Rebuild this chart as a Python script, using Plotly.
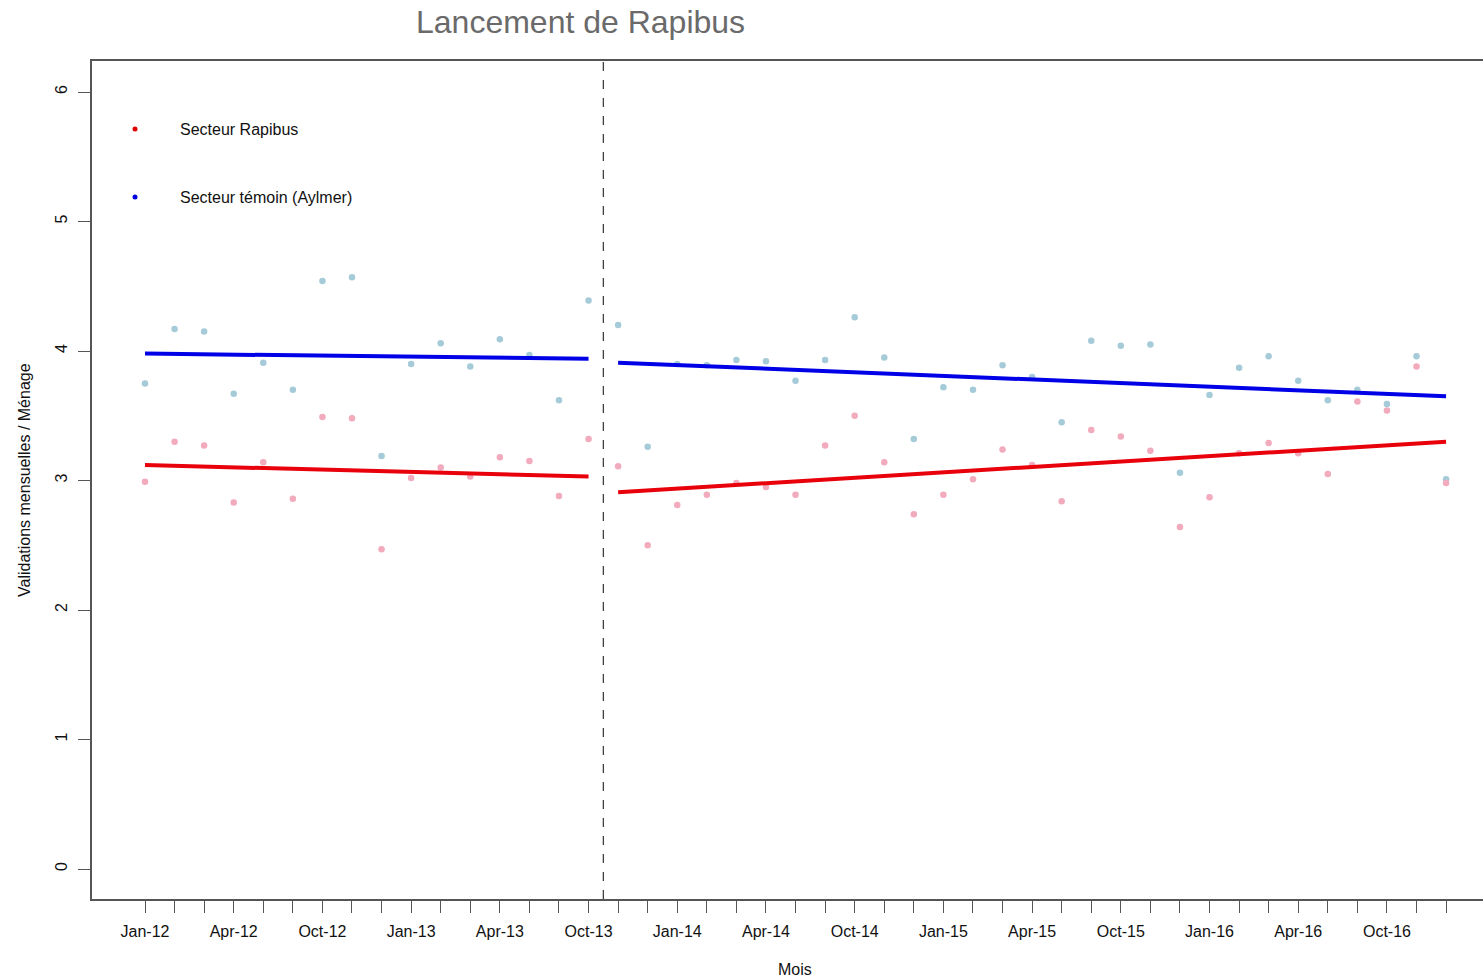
import plotly.graph_objects as go

# ---- data ----
month_labels = [
    "Jan-12", "Feb-12", "Mar-12", "Apr-12", "May-12", "Jun-12", "Oct-12", "Nov-12", "Dec-12",
    "Jan-13", "Feb-13", "Mar-13", "Apr-13", "May-13", "Jun-13", "Oct-13", "Nov-13", "Dec-13",
    "Jan-14", "Feb-14", "Mar-14", "Apr-14", "May-14", "Jun-14", "Oct-14", "Nov-14", "Dec-14",
    "Jan-15", "Feb-15", "Mar-15", "Apr-15", "May-15", "Jun-15", "Oct-15", "Nov-15", "Dec-15",
    "Jan-16", "Feb-16", "Mar-16", "Apr-16", "May-16", "Jun-16", "Oct-16", "Nov-16", "Dec-16",
]
rapibus = [2.99, 3.30, 3.27, 2.83, 3.14, 2.86, 3.49, 3.48, 2.47, 3.02, 3.10, 3.03, 3.18, 3.15, 2.88, 3.32,
           3.11, 2.50, 2.81, 2.89, 2.98, 2.95, 2.89, 3.27, 3.50, 3.14, 2.74, 2.89, 3.01, 3.24, 3.12,
           2.84, 3.39, 3.34, 3.23, 2.64, 2.87, 3.21, 3.29, 3.21, 3.05, 3.61, 3.54, 3.88, 2.98]
aylmer = [3.75, 4.17, 4.15, 3.67, 3.91, 3.70, 4.54, 4.57, 3.19, 3.90, 4.06, 3.88, 4.09, 3.97, 3.62, 4.39,
          4.20, 3.26, 3.90, 3.89, 3.93, 3.92, 3.77, 3.93, 4.26, 3.95, 3.32, 3.72, 3.70, 3.89, 3.80,
          3.45, 4.08, 4.04, 4.05, 3.06, 3.66, 3.87, 3.96, 3.77, 3.62, 3.70, 3.59, 3.96, 3.01]
# fitted trend values at start / end of each period
pre_period = ["Jan-12", "Oct-13"]
post_period = ["Nov-13", "Dec-16"]
rapibus_fit_pre = [3.12, 3.03]
rapibus_fit_post = [2.91, 3.30]
aylmer_fit_pre = [3.98, 3.94]
aylmer_fit_post = [3.91, 3.65]
launch_after = "Oct-13"
y_ticks = [0, 1, 2, 3, 4, 5, 6]

idx = list(range(len(month_labels)))
pos = {m: i for i, m in enumerate(month_labels)}
shown = [m if i % 3 == 0 else "" for i, m in enumerate(month_labels)]

FONT = "Liberation Sans, Arial, sans-serif"
AX = "#555555"

fig = go.Figure()
fig.add_trace(go.Scatter(x=idx, y=aylmer, mode="markers",
                         marker=dict(color="#A6CBD8", size=6.5), showlegend=False))
fig.add_trace(go.Scatter(x=idx, y=rapibus, mode="markers",
                         marker=dict(color="#F2AABD", size=6.5), showlegend=False))
for period, vals, col in [
    (pre_period, rapibus_fit_pre, "#E8000B"),
    (post_period, rapibus_fit_post, "#E8000B"),
    (pre_period, aylmer_fit_pre, "#0000E6"),
    (post_period, aylmer_fit_post, "#0000E6"),
]:
    fig.add_trace(go.Scatter(x=[pos[m] for m in period], y=vals, mode="lines",
                             line=dict(color=col, width=4), showlegend=False))

# launch line
fig.add_shape(type="line", xref="x", yref="paper",
              x0=pos[launch_after] + 0.5, x1=pos[launch_after] + 0.5, y0=0, y1=1,
              line=dict(color="#333333", width=1.2, dash="dash"))

W, H = 1483, 980
L, T, B = 92, 61, 81
pw = W - L
ph = H - T - B

def px_x(p):
    return (p - L) / pw

def px_y(p):
    return (H - B - p) / ph

# legend
for ypix, col, txt in [(129, "#E00000", "Secteur Rapibus"), (197, "#0000DD", "Secteur témoin (Aylmer)")]:
    fig.add_shape(type="circle", xref="paper", yref="paper",
                  xsizemode="pixel", ysizemode="pixel",
                  xanchor=px_x(135), yanchor=px_y(ypix),
                  x0=-2.5, x1=2.5, y0=-2.5, y1=2.5,
                  fillcolor=col, line=dict(width=0))
    fig.add_annotation(xref="paper", yref="paper", x=px_x(178), y=px_y(ypix),
                       xanchor="left", yanchor="middle", showarrow=False, text=txt,
                       font=dict(family=FONT, size=16, color="#111111"))

# title
fig.add_annotation(xref="paper", yref="paper", x=px_x(580), y=px_y(22),
                   xanchor="center", yanchor="middle", showarrow=False,
                   text="Lancement de Rapibus",
                   font=dict(family=FONT, size=32, color="#6a6a6a"))
# axis titles
fig.add_annotation(xref="paper", yref="paper", x=px_x(24), y=0.5,
                   xanchor="center", yanchor="middle", showarrow=False, textangle=-90,
                   text="Validations mensuelles / Ménage",
                   font=dict(family=FONT, size=16, color="#111111"))
fig.add_annotation(xref="paper", yref="paper", x=px_x(795), y=px_y(969),
                   xanchor="center", yanchor="middle", showarrow=False,
                   text="Mois", font=dict(family=FONT, size=16, color="#111111"))

step = 29.57
fig.update_layout(
    width=W, height=H,
    margin=dict(l=L, r=0, t=T, b=B),
    paper_bgcolor="white", plot_bgcolor="white",
    font=dict(family=FONT, size=16, color="#111111"),
    xaxis=dict(range=[-(145 - L) / step, (W - 145) / step],
               tickmode="array", tickvals=idx, ticktext=shown,
               ticks="outside", ticklen=12, tickwidth=1.3, tickcolor=AX,
               showline=True, linecolor=AX, linewidth=1.5, mirror=True,
               showgrid=False, zeroline=False, ticklabelstandoff=5,
               tickfont=dict(family=FONT, size=16, color="#111111")),
    yaxis=dict(range=[-30 / 129.5, 808 / 129.5],
               tickmode="array", tickvals=y_ticks, ticktext=[str(v) for v in y_ticks],
               ticks="outside", ticklen=12, tickwidth=1.3, tickcolor=AX,
               showline=True, linecolor=AX, linewidth=1.5, mirror=False,
               showgrid=False, zeroline=False, tickangle=-90, ticklabelstandoff=5,
               tickfont=dict(family=FONT, size=16, color="#111111")),
)

fig.write_html(
    "out.html",
    config={"displayModeBar": False},
    post_script="document.body.style.margin='0';document.body.style.overflow='hidden';",
)
